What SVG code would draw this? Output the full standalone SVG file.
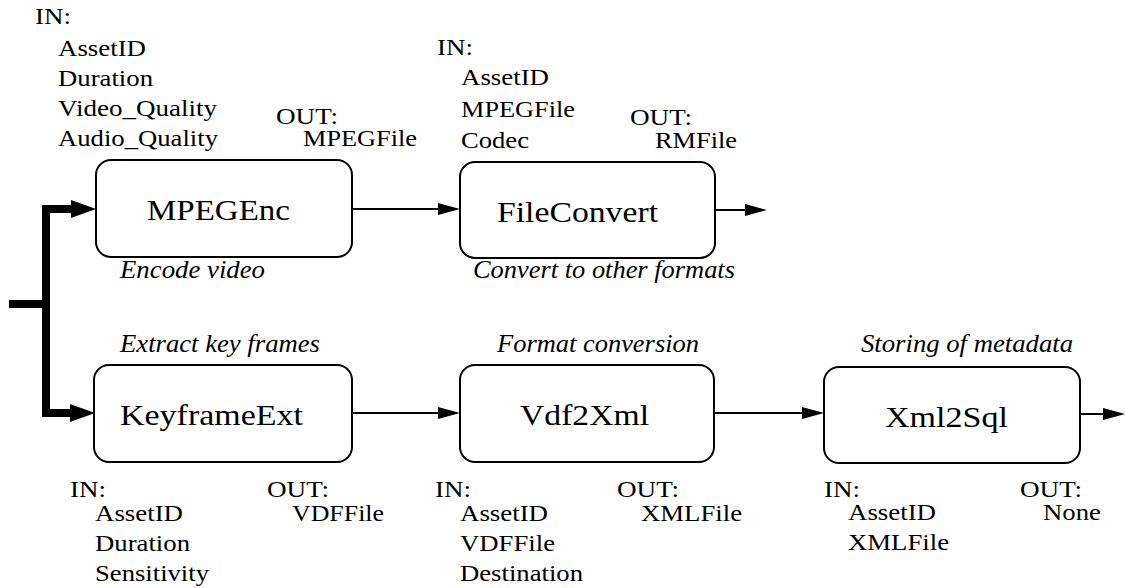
<svg xmlns="http://www.w3.org/2000/svg" width="1125" height="588" viewBox="0 0 1125 588">
<style>
.box{fill:#fff;stroke:#000;stroke-width:2}
text{font-family:"Liberation Serif","DejaVu Serif","Times New Roman",serif;fill:#000}
.name{font-size:30px;text-anchor:middle}
.lbl{font-size:24px}
.cap{font-size:25px;font-style:italic}
.thin{fill:none;stroke:#000;stroke-width:2}
.thick{fill:none;stroke:#000;stroke-width:8}
</style>
<defs>
<marker id="ah" markerUnits="userSpaceOnUse" markerWidth="24" markerHeight="14" refX="0" refY="6" orient="auto"><path d="M0,0 L22,6 L0,12 z" fill="#000"/></marker>
<marker id="ahb" markerUnits="userSpaceOnUse" markerWidth="26" markerHeight="20" refX="0" refY="9" orient="auto"><path d="M0,0 L25,9 L0,18 z" fill="#000"/></marker>
</defs>
<g id="connectors">
<path class="thick" d="M9,304 H46"/>
<path class="thick" d="M46,209 V413"/>
<path class="thick" d="M42,209 H71" marker-end="url(#ahb)"/>
<path class="thick" d="M42,413 H70" marker-end="url(#ahb)"/>
<path class="thin" d="M352,209 H438" marker-end="url(#ah)"/>
<path class="thin" d="M715,210 H745" marker-end="url(#ah)"/>
<path class="thin" d="M352,413 H438" marker-end="url(#ah)"/>
<path class="thin" d="M714,413 H802" marker-end="url(#ah)"/>
<path class="thin" d="M1080,414 H1103" marker-end="url(#ah)"/>
</g>
<g id="MPEGEnc">
<rect class="box" x="96" y="160" width="256" height="97" rx="15"/>
<text class="name" x="218.5" y="220" textLength="143" lengthAdjust="spacingAndGlyphs">MPEGEnc</text>
<text class="cap" x="120" y="278" textLength="145" lengthAdjust="spacingAndGlyphs">Encode video</text>
<text class="lbl" x="35" y="24" textLength="36" lengthAdjust="spacingAndGlyphs">IN:</text>
<text class="lbl" x="58" y="56" textLength="88" lengthAdjust="spacingAndGlyphs">AssetID</text>
<text class="lbl" x="58" y="86" textLength="95" lengthAdjust="spacingAndGlyphs">Duration</text>
<text class="lbl" x="58" y="116" textLength="159" lengthAdjust="spacingAndGlyphs">Video_Quality</text>
<text class="lbl" x="58" y="146" textLength="160" lengthAdjust="spacingAndGlyphs">Audio_Quality</text>
<text class="lbl" x="276" y="124" textLength="62" lengthAdjust="spacingAndGlyphs">OUT:</text>
<text class="lbl" x="303" y="146" textLength="114" lengthAdjust="spacingAndGlyphs">MPEGFile</text>
</g>
<g id="FileConvert">
<rect class="box" x="460" y="162" width="255" height="96" rx="15"/>
<text class="name" x="577.5" y="222" textLength="161" lengthAdjust="spacingAndGlyphs">FileConvert</text>
<text class="cap" x="473" y="278" textLength="262" lengthAdjust="spacingAndGlyphs">Convert to other formats</text>
<text class="lbl" x="437" y="55" textLength="36" lengthAdjust="spacingAndGlyphs">IN:</text>
<text class="lbl" x="461" y="85" textLength="88" lengthAdjust="spacingAndGlyphs">AssetID</text>
<text class="lbl" x="461" y="117" textLength="114" lengthAdjust="spacingAndGlyphs">MPEGFile</text>
<text class="lbl" x="461" y="148" textLength="68" lengthAdjust="spacingAndGlyphs">Codec</text>
<text class="lbl" x="630" y="125" textLength="62" lengthAdjust="spacingAndGlyphs">OUT:</text>
<text class="lbl" x="655" y="148" textLength="82" lengthAdjust="spacingAndGlyphs">RMFile</text>
</g>
<g id="KeyframeExt">
<rect class="box" x="94" y="365" width="258" height="97" rx="15"/>
<text class="name" x="211.5" y="425" textLength="183" lengthAdjust="spacingAndGlyphs">KeyframeExt</text>
<text class="cap" x="120" y="352" textLength="200" lengthAdjust="spacingAndGlyphs">Extract key frames</text>
<text class="lbl" x="70" y="497" textLength="36" lengthAdjust="spacingAndGlyphs">IN:</text>
<text class="lbl" x="95" y="521" textLength="88" lengthAdjust="spacingAndGlyphs">AssetID</text>
<text class="lbl" x="95" y="551" textLength="95" lengthAdjust="spacingAndGlyphs">Duration</text>
<text class="lbl" x="95" y="581" textLength="114" lengthAdjust="spacingAndGlyphs">Sensitivity</text>
<text class="lbl" x="267" y="497" textLength="62" lengthAdjust="spacingAndGlyphs">OUT:</text>
<text class="lbl" x="292" y="521" textLength="92" lengthAdjust="spacingAndGlyphs">VDFFile</text>
</g>
<g id="Vdf2Xml">
<rect class="box" x="460" y="365" width="254" height="97" rx="15"/>
<text class="name" x="584.5" y="425" textLength="129" lengthAdjust="spacingAndGlyphs">Vdf2Xml</text>
<text class="cap" x="497" y="352" textLength="202" lengthAdjust="spacingAndGlyphs">Format conversion</text>
<text class="lbl" x="435" y="497" textLength="36" lengthAdjust="spacingAndGlyphs">IN:</text>
<text class="lbl" x="460" y="521" textLength="88" lengthAdjust="spacingAndGlyphs">AssetID</text>
<text class="lbl" x="460" y="551" textLength="95" lengthAdjust="spacingAndGlyphs">VDFFile</text>
<text class="lbl" x="460" y="581" textLength="123" lengthAdjust="spacingAndGlyphs">Destination</text>
<text class="lbl" x="617" y="497" textLength="62" lengthAdjust="spacingAndGlyphs">OUT:</text>
<text class="lbl" x="641" y="521" textLength="101" lengthAdjust="spacingAndGlyphs">XMLFile</text>
</g>
<g id="Xml2Sql">
<rect class="box" x="824" y="367" width="256" height="96" rx="15"/>
<text class="name" x="946.5" y="427" textLength="123" lengthAdjust="spacingAndGlyphs">Xml2Sql</text>
<text class="cap" x="861" y="352" textLength="212" lengthAdjust="spacingAndGlyphs">Storing of metadata</text>
<text class="lbl" x="824" y="497" textLength="36" lengthAdjust="spacingAndGlyphs">IN:</text>
<text class="lbl" x="848" y="520" textLength="88" lengthAdjust="spacingAndGlyphs">AssetID</text>
<text class="lbl" x="848" y="550" textLength="101" lengthAdjust="spacingAndGlyphs">XMLFile</text>
<text class="lbl" x="1020" y="497" textLength="62" lengthAdjust="spacingAndGlyphs">OUT:</text>
<text class="lbl" x="1043" y="520" textLength="58" lengthAdjust="spacingAndGlyphs">None</text>
</g>
</svg>
